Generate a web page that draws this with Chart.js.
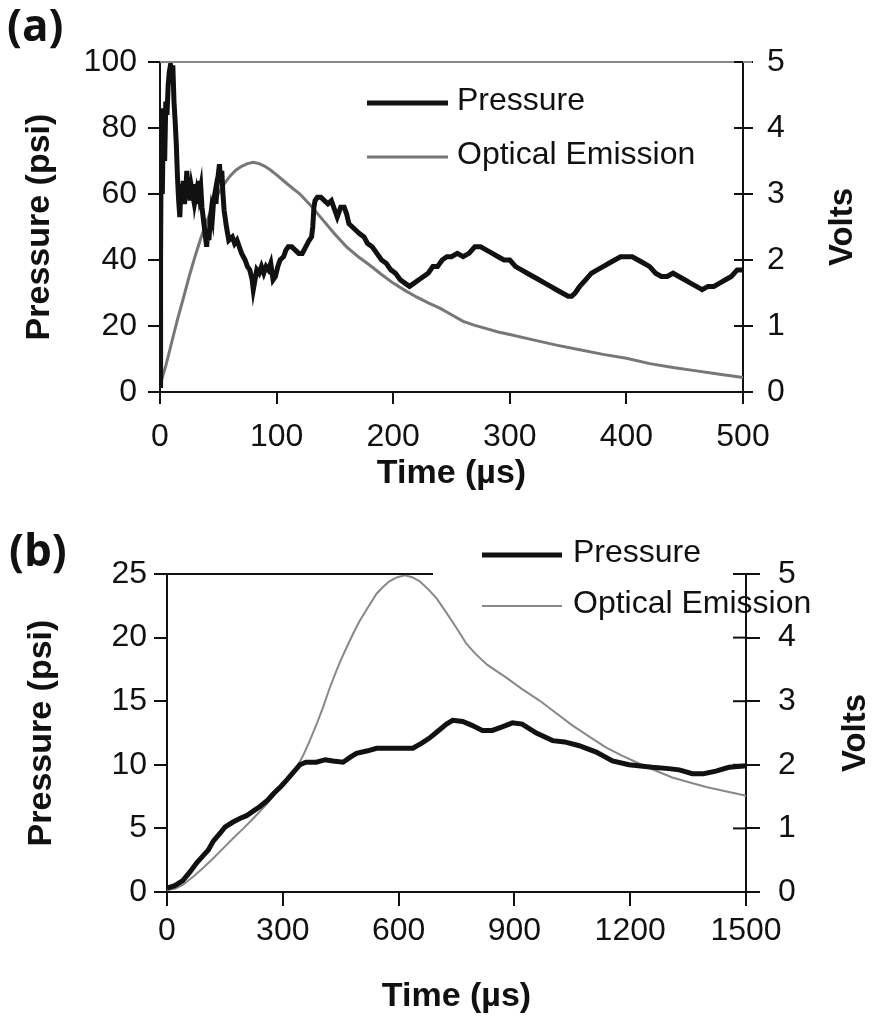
<!DOCTYPE html>
<html>
<head>
<meta charset="utf-8">
<script src="https://cdn.jsdelivr.net/npm/chart.js@4.4.0/dist/chart.umd.min.js"></script>
<style>
  body { margin: 0; background: #fff; width: 877px; height: 1019px; overflow: hidden; }
  canvas { position: absolute; left: 0; }
  #chartA { top: 0; }
  #chartB { top: 505px; }
</style>
</head>
<body>
<canvas id="chartA" width="877" height="505" style="width:877px;height:505px"></canvas>
<canvas id="chartB" width="877" height="514" style="width:877px;height:514px"></canvas>
<script>
// (a) pressure in psi vs time in µs
const pressureA = [[0,2],[0.5,40],[1,75],[2,60],[3,86],[4,70],[5,88],[6,84],[7,93],[8,97],[9,99],[10,95],[11,99],[12,88],[13,82],[14,75],[15,65],[16,58],[17,53],[18,63],[19,58],[20,64],[21,57],[22,60],[23,67],[24,61],[25,65],[26,58],[27,62],[28,60],[29,63],[30,58],[31,60],[32,57],[33,64],[34,60],[35,62],[36,56],[37,53],[38,50],[39,47],[40,44],[41,49],[42,46],[43,52],[44,55],[45,53],[46,58],[47,60],[48,57],[49,63],[50,66],[51,69],[52,64],[53,67],[54,60],[55,55],[57,50],[59,46],[62,47],[64,45],[66,46],[68,44],[70,42],[73,40],[75,38],[77,37],[79,34],[80,31],[81,33],[83,37],[85,36],[87,38],[89,36],[91,38],[93,37],[95,39],[97,34],[99,35],[101,38],[103,40],[106,41],[108,43],[110,44],[113,44],[116,43],[119,42],[122,42],[125,44],[128,46],[130,47],[131,50],[132,56],[133,58],[135,59],[138,59],[141,58],[144,57],[147,58],[150,55],[152,53],[155,56],[158,56],[160,54],[162,51],[165,50],[168,49],[171,48],[175,47],[178,45],[182,44],[186,42],[190,40],[194,39],[198,37],[202,36],[206,34],[210,33],[214,32],[218,33],[222,34],[226,35],[230,36],[234,38],[238,38],[242,40],[246,41],[250,41],[255,42],[260,41],[265,42],[270,44],[275,44],[280,43],[285,42],[290,41],[295,40],[300,40],[305,38],[310,37],[315,36],[320,35],[325,34],[330,33],[335,32],[340,31],[345,30],[350,29],[353,29],[356,30],[360,32],[365,34],[370,36],[375,37],[380,38],[385,39],[390,40],[395,41],[400,41],[405,41],[410,40],[415,39],[420,38],[425,36],[430,35],[435,35],[440,36],[445,35],[450,34],[455,33],[460,32],[465,31],[470,32],[475,32],[480,33],[485,34],[490,35],[495,37],[500,37]];

// (a) optical emission in volts
const opticalA = [[0,0.1],[5,0.4],[10,0.75],[15,1.1],[20,1.42],[25,1.75],[30,2.05],[35,2.33],[40,2.58],[45,2.8],[50,3.0],[55,3.15],[60,3.27],[65,3.36],[70,3.42],[75,3.46],[80,3.48],[85,3.46],[90,3.42],[95,3.36],[100,3.29],[110,3.14],[120,3.0],[130,2.81],[140,2.6],[150,2.39],[160,2.2],[170,2.05],[180,1.92],[190,1.78],[200,1.65],[210,1.54],[220,1.44],[230,1.35],[240,1.27],[250,1.17],[260,1.07],[270,1.01],[280,0.96],[290,0.91],[300,0.87],[320,0.79],[340,0.71],[360,0.64],[380,0.57],[400,0.51],[420,0.43],[440,0.37],[460,0.32],[480,0.27],[500,0.22]];

// (b) pressure in psi
const pressureB = [[0,0.3],[20,0.5],[41,0.9],[60,1.6],[77,2.3],[95,2.9],[107,3.3],[120,4.0],[137,4.6],[150,5.1],[171,5.5],[190,5.8],[206,6.0],[225,6.4],[240,6.7],[260,7.2],[275,7.7],[295,8.3],[310,8.8],[330,9.5],[344,10.0],[360,10.2],[387,10.2],[410,10.4],[430,10.3],[456,10.2],[475,10.6],[491,10.9],[520,11.1],[543,11.3],[600,11.3],[637,11.3],[660,11.7],[680,12.1],[700,12.6],[724,13.2],[740,13.5],[766,13.4],[790,13.1],[817,12.7],[843,12.7],[870,13.0],[895,13.3],[920,13.2],[957,12.5],[999,11.9],[1030,11.8],[1068,11.5],[1112,11.0],[1154,10.3],[1197,10.0],[1257,9.8],[1300,9.7],[1327,9.6],[1361,9.3],[1390,9.3],[1422,9.5],[1456,9.8],[1495,9.9],[1500,9.9]];

// (b) optical emission in volts
const opticalB = [[0,0.03],[20,0.05],[41,0.11],[70,0.25],[94,0.38],[120,0.53],[146,0.69],[172,0.85],[198,1.0],[224,1.16],[249,1.32],[275,1.5],[301,1.71],[320,1.84],[336,1.96],[353,2.15],[370,2.38],[387,2.63],[404,2.9],[421,3.2],[439,3.48],[452,3.67],[465,3.84],[482,4.06],[499,4.26],[520,4.47],[543,4.69],[560,4.8],[577,4.89],[597,4.95],[616,4.98],[635,4.95],[654,4.89],[675,4.77],[698,4.62],[725,4.38],[750,4.15],[776,3.9],[800,3.74],[830,3.57],[879,3.37],[920,3.19],[965,3.01],[1000,2.85],[1050,2.62],[1095,2.44],[1138,2.27],[1180,2.14],[1223,2.02],[1265,1.91],[1309,1.8],[1350,1.73],[1397,1.65],[1450,1.58],[1495,1.52],[1500,1.51]];

const seriesNames = ['Pressure', 'Optical Emission'];

Chart.defaults.font.family = '"Liberation Sans", Arial, sans-serif';
Chart.defaults.font.size = 32;
Chart.defaults.color = '#111';

const toXY = arr => arr.map(p => ({ x: p[0], y: p[1] }));

// draws the bits Chart.js has no option for: top border, inward right ticks,
// the legend, the rotated "Volts" title and the panel letter
const decor = {
  id: 'decor',
  afterDraw(chart, args, o) {
    const ctx = chart.ctx;
    const area = chart.chartArea;
    const y1 = chart.scales.y1;
    ctx.save();

    ctx.strokeStyle = o.topColor;
    ctx.lineWidth = 2;
    ctx.beginPath();
    ctx.moveTo(area.left, area.top);
    ctx.lineTo(o.topEnd, area.top);
    ctx.stroke();

    ctx.strokeStyle = '#111';
    y1.ticks.forEach((t, i) => {
      const py = y1.getPixelForTick(i);
      ctx.beginPath();
      ctx.moveTo(area.right - o.innerTick, py);
      ctx.lineTo(area.right, py);
      ctx.stroke();
    });

    const lg = o.legend;
    chart.data.datasets.forEach((ds, i) => {
      ctx.strokeStyle = ds.borderColor;
      ctx.lineWidth = ds.borderWidth;
      ctx.beginPath();
      ctx.moveTo(lg.x, lg.y[i]);
      ctx.lineTo(lg.x + lg.len, lg.y[i]);
      ctx.stroke();
      ctx.fillStyle = '#111';
      ctx.font = '32px "Liberation Sans", Arial, sans-serif';
      ctx.textAlign = 'left';
      ctx.textBaseline = 'middle';
      ctx.fillText(ds.label, lg.x + lg.len + lg.gap, lg.y[i] - 2);
    });

    ctx.save();
    ctx.translate(o.volts.x, o.volts.y);
    ctx.rotate(-Math.PI / 2);
    ctx.font = 'bold 33px "Liberation Sans", Arial, sans-serif';
    ctx.textAlign = 'center';
    ctx.textBaseline = 'middle';
    ctx.fillStyle = '#111';
    ctx.fillText('Volts', 0, 0);
    ctx.restore();

    ctx.font = 'bold 44px "Open Sans", "Liberation Sans", sans-serif';
    ctx.textAlign = 'left';
    ctx.textBaseline = 'middle';
    ctx.fillStyle = '#111';
    ctx.fillText(o.panel.text, o.panel.x, o.panel.y);

    ctx.restore();
  }
};

function makeChart(id, cfg) {
  const ctx = document.getElementById(id).getContext('2d');
  return new Chart(ctx, {
    type: 'line',
    data: {
      datasets: [{
        label: seriesNames[0],
        data: toXY(cfg.pressure),
        yAxisID: 'y',
        borderColor: '#111',
        borderWidth: 5,
        pointRadius: 0,
        tension: 0
      }, {
        label: seriesNames[1],
        data: toXY(cfg.optical),
        yAxisID: 'y1',
        borderColor: cfg.grey,
        borderWidth: cfg.greyWidth,
        pointRadius: 0,
        tension: 0
      }]
    },
    options: {
      responsive: false,
      animation: false,
      layout: { padding: { top: cfg.top, left: 0, right: 0, bottom: 0 } },
      plugins: {
        legend: { display: false },
        tooltip: { enabled: false },
        decor: cfg.decor
      },
      scales: {
        x: {
          type: 'linear', min: 0, max: cfg.xMax,
          ticks: { stepSize: cfg.xStep, padding: cfg.xPad, maxRotation: 0, callback: v => String(v) },
          grid: { drawOnChartArea: false, tickLength: cfg.xTick, color: '#111', lineWidth: 2 },
          border: { color: '#111', width: 2 },
          title: { display: true, text: 'Time (µs)', font: { size: 34, weight: 'bold' }, padding: { top: 0, bottom: cfg.xTitlePad } },
          afterFit: s => { s.height = cfg.xHeight; }
        },
        y: {
          position: 'left', min: 0, max: cfg.yMax,
          ticks: { stepSize: cfg.yStep, padding: cfg.yPad },
          grid: { drawOnChartArea: false, tickLength: cfg.yTick, color: '#111', lineWidth: 2 },
          border: { color: '#111', width: 2 },
          title: { display: true, text: 'Pressure (psi)', font: { size: 34, weight: 'bold' }, padding: { top: cfg.yTitlePad, bottom: 0 } },
          afterFit: s => { s.width = cfg.yWidth; }
        },
        y1: {
          position: 'right', min: 0, max: 5,
          ticks: { stepSize: 1, padding: cfg.y1Pad },
          grid: { drawOnChartArea: false, tickLength: cfg.y1Tick, color: '#111', lineWidth: 2 },
          border: { color: '#111', width: 2 },
          afterFit: s => { s.width = cfg.y1Width; }
        }
      }
    },
    plugins: [decor]
  });
}

makeChart('chartA', {
  pressure: pressureA, optical: opticalA,
  grey: '#777', greyWidth: 3,
  top: 62, xMax: 500, xStep: 100, yMax: 100, yStep: 20,
  xHeight: 113, xPad: 14, xTick: 12, xTitlePad: 11,
  yWidth: 160, yPad: 11, yTick: 12, yTitlePad: 19,
  y1Width: 134, y1Pad: 14, y1Tick: 10,
  decor: {
    topColor: '#888', topEnd: 752, innerTick: 9,
    legend: { x: 367, y: [103, 157], len: 81, gap: 9 },
    volts: { x: 843, y: 227 },
    panel: { text: '(a)', x: 7, y: 28 }
  }
});

makeChart('chartB', {
  pressure: pressureB, optical: opticalB,
  grey: '#888', greyWidth: 2,
  top: 69, xMax: 1500, xStep: 300, yMax: 25, yStep: 5,
  xHeight: 127, xPad: 6, xTick: 14, xTitlePad: 2,
  yWidth: 167, yPad: 7, yTick: 13, yTitlePad: 21,
  y1Width: 131, y1Pad: 18, y1Tick: 14,
  decor: {
    topColor: '#111', topEnd: 433, innerTick: 13,
    legend: { x: 482, y: [50, 101], len: 80, gap: 11 },
    volts: { x: 856, y: 228 },
    panel: { text: '(b)', x: 9, y: 48 }
  }
});
</script>
</body>
</html>
